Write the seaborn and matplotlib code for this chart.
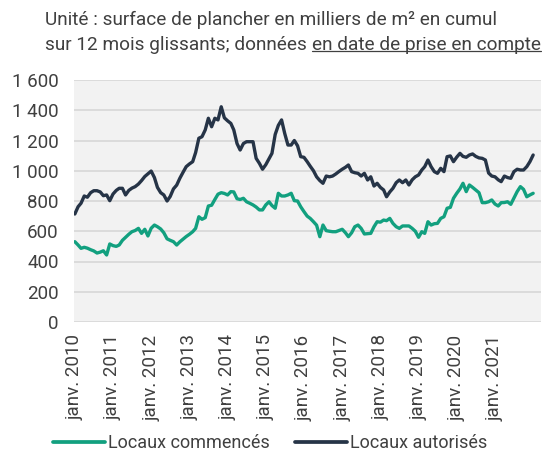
import numpy as np
import pandas as pd
import matplotlib
matplotlib.use("Agg")
import matplotlib.pyplot as plt
import seaborn as sns
from matplotlib.lines import Line2D

# ---------------- data ----------------
start_month = "2010-01-01"
series_names = ["Locaux commencés", "Locaux autorisés"]

commences = [
    531, 509, 487, 494, 488, 478, 470, 456, 462, 471, 443, 516,
    505, 500, 509, 540, 560, 580, 597, 605, 619, 586, 613, 569,
    620, 641, 630, 615, 590, 550, 540, 531, 509, 530, 548, 565,
    580, 597, 619, 696, 679, 690, 767, 772, 810, 845, 855, 850,
    840, 862, 860, 815, 810, 818, 795, 785, 774, 760, 741, 741,
    774, 795, 770, 752, 851, 833, 833, 840, 851, 802, 800, 762,
    730, 700, 685, 663, 640, 564, 641, 604, 600, 597, 597, 605,
    613, 590, 564, 590, 630, 641, 619, 582, 584, 586, 630, 663,
    660, 674, 670, 685, 652, 630, 619, 635, 635, 635, 619, 600,
    560, 597, 586, 663, 641, 650, 652, 685, 696, 752, 758, 818,
    851, 880, 917, 862, 906, 890, 873, 855, 789, 789, 795, 807,
    780, 767, 789, 790, 795, 778, 820, 862, 895, 877, 828, 840,
    851,
]

autorises = [
    714, 762, 785, 833, 825, 855, 868, 868, 860, 835, 840, 802,
    846, 870, 884, 884, 840, 870, 885, 895, 912, 935, 962, 980,
    998, 955, 890, 855, 840, 800, 830, 880, 905, 950, 990, 1027,
    1045, 1060, 1120, 1215, 1225, 1270, 1347, 1291, 1347, 1336, 1423, 1350,
    1330, 1313, 1270, 1180, 1137, 1180, 1192, 1192, 1192, 1082, 1049, 1010,
    1040, 1080, 1115, 1240, 1300, 1336, 1247, 1170, 1170, 1200, 1165, 1093,
    1089, 1060, 1030, 1000, 960, 935, 917, 965, 960, 965, 979, 995,
    1010, 1023, 1038, 994, 987, 983, 965, 983, 939, 960, 899, 917,
    890, 873, 828, 860, 884, 921, 939, 921, 939, 906, 940, 960,
    972, 1005, 1027, 1071, 1027, 994, 983, 1016, 994, 1093, 1098, 1060,
    1090, 1115, 1095, 1089, 1104, 1111, 1095, 1085, 1082, 1071, 985, 965,
    960, 940, 928, 965, 955, 950, 994, 1010, 1005, 1005, 1027, 1060,
    1104,
]

tick_years = list(range(2010, 2022))
tick_labels = [f"janv. {y}" for y in tick_years]
y_ticks = [0, 200, 400, 600, 800, 1000, 1200, 1400, 1600]
y_tick_labels = ["0", "200", "400", "600", "800", "1 000", "1 200", "1 400", "1 600"]

title_line1 = "Unité : surface de plancher en milliers de m² en cumul"
title_line2a = "sur 12 mois glissants; données "
title_line2b = "en date de prise en compte"

# ---------------- styling ----------------
green = "#12a07f"
navy = "#263447"
text_col = "#404040"

sns.set_theme(style="white")
plt.rcParams["font.family"] = ["Roboto", "DejaVu Sans"]

dates = pd.date_range(start_month, periods=len(commences), freq="MS")
df = pd.DataFrame({
    "date": np.concatenate([dates, dates]),
    "valeur": commences + autorises,
    "série": [series_names[0]] * len(commences) + [series_names[1]] * len(autorises),
})

fig = plt.figure(figsize=(5.42, 4.53), dpi=100)
ax = fig.add_axes([74 / 542, 1 - 322 / 453, (541 - 74) / 542, (322 - 80) / 453])
ax.set_facecolor("#f2f2f2")

sns.lineplot(data=df, x="date", y="valeur", hue="série",
             palette=[green, navy], linewidth=2.4, ax=ax, legend=False)

ax.set_ylim(0, 1600)
ax.set_yticks(y_ticks)
ax.set_yticklabels(y_tick_labels)
tick_dates = [pd.Timestamp(f"{y}-01-01") for y in tick_years]
ax.set_xticks(tick_dates)
ax.set_xticklabels(tick_labels, rotation=90)
ax.set_xlim(dates[0] - pd.Timedelta(days=8), dates[-1] + pd.Timedelta(days=75))

ax.grid(axis="y", color="#d9d9d9", linewidth=1.3)
ax.grid(axis="x", visible=False)
ax.set_axisbelow(True)
for s in ax.spines.values():
    s.set_visible(False)
ax.tick_params(axis="both", length=0, labelsize=13.5, colors=text_col)
ax.tick_params(axis="y", pad=11)
ax.tick_params(axis="x", pad=9)
ax.set_xlabel("")
ax.set_ylabel("")

# legend
handles = [Line2D([], [], color=green, linewidth=2.7),
           Line2D([], [], color=navy, linewidth=2.7)]
fig.legend(handles, series_names, loc="center", bbox_to_anchor=(270 / 542, 1 - 443 / 453),
           ncol=2, frameon=False, fontsize=13, handlelength=2.9, handletextpad=0.15,
           columnspacing=1.4, labelcolor=text_col, borderpad=0.1)

# title with underlined part
fs_title = 13.7
t1 = fig.text(45 / 542, 1 - 20 / 453, title_line1, fontsize=fs_title, color=text_col,
              ha="left", va="center")
t2a = fig.text(45 / 542, 1 - 45 / 453, title_line2a, fontsize=fs_title, color=text_col,
               ha="left", va="center")
fig.canvas.draw()
r = fig.canvas.get_renderer()
bb = t2a.get_window_extent(r)
x2 = bb.x1 / fig.bbox.width
t2b = fig.text(x2, 1 - 45 / 453, title_line2b, fontsize=fs_title, color=text_col,
               ha="left", va="center")
fig.canvas.draw()
bb2 = t2b.get_window_extent(r)
uy = (bb2.y0 + 3) / fig.bbox.height
fig.add_artist(Line2D([bb2.x0 / fig.bbox.width, bb2.x1 / fig.bbox.width], [uy, uy],
                      color=text_col, linewidth=0.9, transform=fig.transFigure))

fig.savefig("out.png", dpi=100, facecolor="white")
